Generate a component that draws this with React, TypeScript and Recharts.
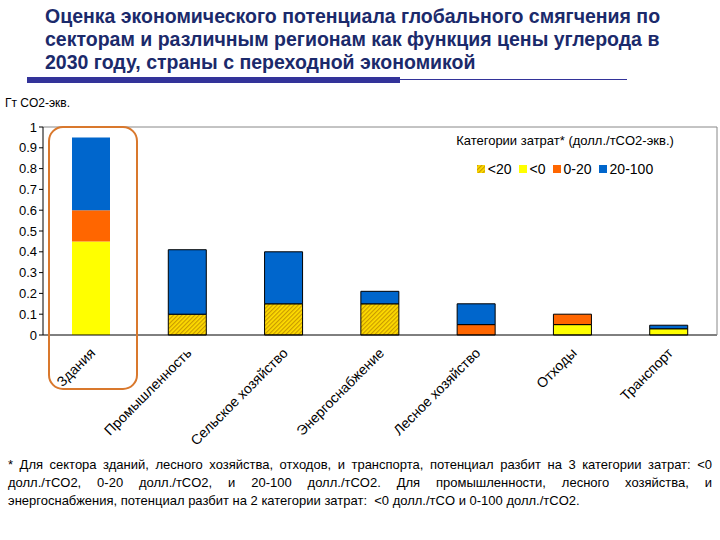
import { BarChart, Bar, XAxis, YAxis, Cell, ReferenceLine } from 'recharts';

const categories = [
  'Здания',
  'Промышленность',
  'Сельское хозяйство',
  'Энергоснабжение',
  'Лесное хозяйство',
  'Отходы',
  'Транспорт',
];
const below20 = [0, 0.1, 0.15, 0.15, 0, 0, 0];
const below0 = [0.45, 0, 0, 0, 0, 0.05, 0.03];
const from0to20 = [0.15, 0, 0, 0, 0.05, 0.05, 0];
const from20to100 = [0.35, 0.31, 0.25, 0.06, 0.1, 0, 0.017];
const yTicks = [0, 0.1, 0.2, 0.3, 0.4, 0.5, 0.6, 0.7, 0.8, 0.9, 1];

const data = categories.map((name, i) => ({
  name,
  b20: below20[i],
  b0: below0[i],
  c020: from0to20[i],
  c20100: from20to100[i],
}));

const series = [
  { key: 'b20', label: '<20', fill: 'url(#hatch)' },
  { key: 'b0', label: '<0', fill: '#ffff00' },
  { key: 'c020', label: '0-20', fill: '#ff6600' },
  { key: 'c20100', label: '20-100', fill: '#0066cc' },
];

const FONT = '"Liberation Sans", Arial, sans-serif';
const NAVY = '#1b2a6b';

function CategoryTick({ x, y, payload }: any) {
  return (
    <g transform={`translate(${x - 2},${y + 4})`}>
      <text textAnchor="end" transform="rotate(-45)" fontSize={14} fontFamily={FONT} fill="#000" dy="0.7em">
        {payload.value}
      </text>
    </g>
  );
}

const footLine = { textAlign: 'justify' as const, textAlignLast: 'justify' as const, whiteSpace: 'nowrap' as const };

export default function App() {
  return (
    <div style={{ position: 'absolute', left: 0, top: 0, width: 720, height: 540, background: '#fff', overflow: 'hidden' }}>
      <svg width={0} height={0} style={{ position: 'absolute' }}>
        <defs>
          <pattern id="hatch" patternUnits="userSpaceOnUse" width={3} height={3} patternTransform="rotate(45)">
            <rect width={3} height={3} fill="#ffdd00" />
            <rect width={1.2} height={3} fill="#c99a00" />
          </pattern>
        </defs>
      </svg>

      <div
        style={{
          position: 'absolute',
          left: 45,
          top: 5,
          fontFamily: FONT,
          fontWeight: 'bold',
          fontSize: 19.5,
          lineHeight: '23px',
          color: NAVY,
          whiteSpace: 'nowrap',
        }}
      >
        Оценка экономического потенциала глобального смягчения по
        <br />
        секторам и различным регионам как функция цены углерода в
        <br />
        2030 году, страны с переходной экономикой
      </div>
      <div style={{ position: 'absolute', left: 27, top: 77, width: 373, height: 6, background: '#333399' }} />
      <div style={{ position: 'absolute', left: 400, top: 79, width: 227, height: 1, background: '#333399' }} />

      <div style={{ position: 'absolute', left: 5, top: 96, fontFamily: FONT, fontSize: 12 }}>Гт CO2-экв.</div>

      <div style={{ position: 'absolute', left: 0, top: 0 }}>
        <BarChart width={720} height={460} data={data} margin={{ top: 127, right: 0, left: 0, bottom: 0 }} barSize={38}>
          <XAxis
            dataKey="name"
            interval={0}
            height={125}
            tickLine={false}
            axisLine={{ stroke: '#000' }}
            tick={<CategoryTick />}
          />
          <YAxis
            width={43}
            domain={[0, 1]}
            ticks={yTicks}
            interval={0}
            tickFormatter={(v: number) => String(v)}
            tickSize={4}
            tickLine={{ stroke: '#000' }}
            axisLine={{ stroke: '#000' }}
            tick={{ fontSize: 13, fill: '#000', fontFamily: FONT }}
          />
          <YAxis yAxisId="r" orientation="right" width={3} tick={false} tickLine={false} axisLine={{ stroke: '#888' }} />
          <ReferenceLine y={1} stroke="#888" />
          {series.map((s) => (
            <Bar key={s.key} dataKey={s.key} stackId="a" fill={s.fill} isAnimationActive={false}>
              {data.map((_, i) => (
                <Cell key={i} stroke={i === 0 ? 'none' : '#000'} strokeWidth={1} />
              ))}
            </Bar>
          ))}
        </BarChart>
      </div>

      <div style={{ position: 'absolute', left: 440, top: 133, width: 250, fontFamily: FONT, fontSize: 13, color: '#000', textAlign: 'center' }}>
        <div>Категории затрат* (долл./тCO2-экв.)</div>
        <div style={{ marginTop: 13, fontSize: 14, display: 'flex', justifyContent: 'center', gap: 7 }}>
          {series.map((s) => (
            <span key={s.key} style={{ display: 'inline-flex', alignItems: 'center', gap: 3 }}>
              <svg width={8} height={8}>
                <rect width={8} height={8} fill={s.fill} />
              </svg>
              {s.label}
            </span>
          ))}
        </div>
      </div>

      <div
        style={{
          position: 'absolute',
          left: 48,
          top: 126,
          width: 86,
          height: 260,
          border: '2.5px solid #d9782d',
          borderRadius: 15,
        }}
      />

      <div
        style={{
          position: 'absolute',
          left: 8,
          top: 456,
          width: 704,
          fontFamily: FONT,
          fontSize: 13,
          lineHeight: '18px',
          color: '#000',
        }}
      >
        <div style={footLine}>
          * Для сектора зданий, лесного хозяйства, отходов, и транспорта, потенциал разбит на 3 категории затрат: &lt;0
        </div>
        <div style={footLine}>
          долл./тCO2, 0-20 долл./тCO2, и 20-100 долл./тCO2. Для промышленности, лесного хозяйства, и
        </div>
        <div>энергоснабжения, потенциал разбит на 2 категории затрат: &nbsp;&lt;0 долл./тCO и 0-100 долл./тCO2.</div>
      </div>
    </div>
  );
}
